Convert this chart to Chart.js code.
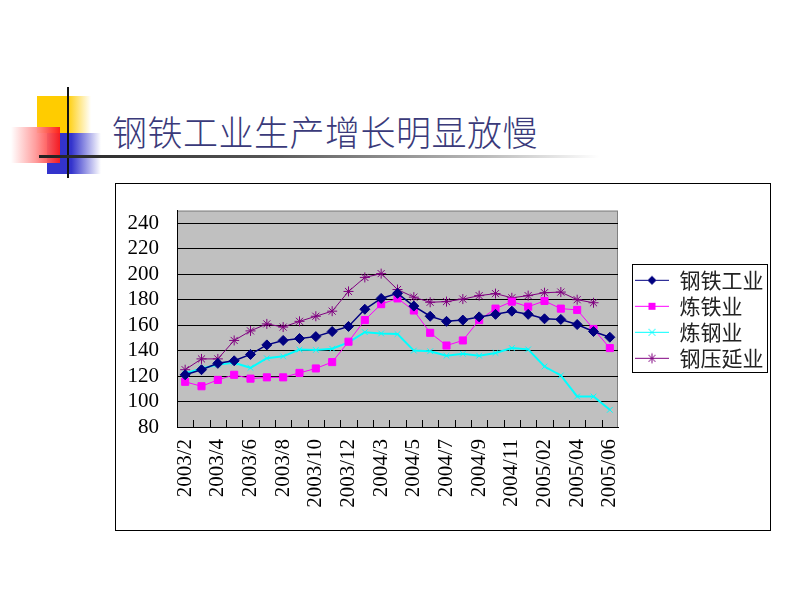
<!DOCTYPE html>
<html>
<head>
<meta charset="utf-8">
<script src="https://cdn.jsdelivr.net/npm/chart.js@4/dist/chart.umd.min.js"></script>
<style>
  body { margin: 0; width: 800px; height: 600px; background: #fff; position: relative; overflow: hidden; }
  .deco { position: absolute; }
  #yellow { left: 37px; top: 96px; width: 54px; height: 37px; background: linear-gradient(to right, #ffcc00 0%, #ffcc00 55%, #fff 100%); }
  #blue { left: 47px; top: 133px; width: 54px; height: 41px; background: linear-gradient(to right, #3333cc 0%, #3333cc 45%, #fff 100%); }
  #red { left: 11px; top: 127px; width: 49px; height: 36px; background: linear-gradient(to right, #fff 0%, #ff9999 50%, #ff1a1a 100%); opacity: 0.95; }
  #vline { left: 67px; top: 87px; width: 2px; height: 91px; background: #111; }
  #hline { left: 39px; top: 155px; width: 560px; height: 3px; background: linear-gradient(to right, #222 0%, #555 40%, #bbb 80%, #fff 100%); }
  #title { position: absolute; left: 112px; top: 113px; font-family: "Noto Sans CJK SC", sans-serif; font-weight: 300; font-size: 35px; line-height: 36px; color: #3a3a7a; letter-spacing: 0.5px; white-space: nowrap; }
  #box { position: absolute; left: 115px; top: 183px; width: 656px; height: 348px; border: 1px solid #000; box-sizing: border-box; }
  #lineChart { position: absolute; left: 0; top: -4px; }
</style>
</head>
<body>
<div class="deco" id="yellow"></div>
<div class="deco" id="blue"></div>
<div class="deco" id="red"></div>
<div class="deco" id="vline"></div>
<div class="deco" id="hline"></div>
<div id="title">钢铁工业生产增长明显放慢</div>
<div id="box"><canvas id="lineChart" width="654" height="350"></canvas></div>
<script>
// categories (month) and series
var months = ['2003/2', '2003/3', '2003/4', '2003/5', '2003/6', '2003/7', '2003/8', '2003/9', '2003/10', '2003/11', '2003/12',
              '2004/2', '2004/3', '2004/4', '2004/5', '2004/6', '2004/7', '2004/8', '2004/9', '2004/10', '2004/11', '2004/12',
              '2005/02', '2005/03', '2005/04', '2005/05', '2005/06'];
var gangtie = [121, 125, 130, 132, 137, 144.5, 148, 149.5, 151, 155, 159, 172.5, 181, 185, 175, 167, 163, 164, 166.5, 168.5, 171, 168.5, 165, 164.5, 160.5, 155, 150.5];
var liantie = [115.5, 112, 117, 121, 118, 119, 119, 122.5, 126, 131, 147, 164, 176.5, 181, 171.5, 154, 144, 148, 164, 173, 178.5, 174.5, 179, 173, 172, 157, 142];
var liangang = [122, 126, 129, 130.5, 126.5, 134, 135.5, 140.8, 140.5, 141.5, 146.5, 154.5, 153.5, 153, 140, 139.5, 136, 137.5, 136, 138.2, 142, 141, 127.5, 120.5, 104, 104, 93.5];
var gangyayan = [125, 133.5, 133.5, 148, 155.5, 161, 158.5, 163, 167, 171, 186.5, 197.5, 200.5, 188, 182, 178, 178.5, 180.5, 183.2, 184.8, 181.5, 183.2, 185.5, 186, 180, 177.6, null];
var yTicks = [80, 100, 120, 140, 160, 180, 200, 220, 240];

//  small legend icon: line with marker in the middle
function legendIcon(color, style) {
    var c = document.createElement('canvas');
    c.width = 46; c.height = 14;
    var ctx = c.getContext('2d');
    ctx.strokeStyle = color;
    ctx.fillStyle = color;
    ctx.lineWidth = 1;
    ctx.beginPath(); ctx.moveTo(12, 7.5); ctx.lineTo(46, 7.5); ctx.stroke();
    var x = 29, y = 7.5;
    ctx.beginPath();
    if (style === 'rectRot') {
        ctx.moveTo(x, y - 4.5); ctx.lineTo(x + 4.5, y); ctx.lineTo(x, y + 4.5); ctx.lineTo(x - 4.5, y); ctx.closePath(); ctx.fill();
    } else if (style === 'rect') {
        ctx.fillRect(x - 3.5, y - 3.5, 7, 7);
    } else if (style === 'crossRot') {
        ctx.moveTo(x - 3.5, y - 3.5); ctx.lineTo(x + 3.5, y + 3.5);
        ctx.moveTo(x + 3.5, y - 3.5); ctx.lineTo(x - 3.5, y + 3.5); ctx.stroke();
    } else {
        ctx.moveTo(x - 3.5, y - 3.5); ctx.lineTo(x + 3.5, y + 3.5);
        ctx.moveTo(x + 3.5, y - 3.5); ctx.lineTo(x - 3.5, y + 3.5);
        ctx.moveTo(x, y - 5); ctx.lineTo(x, y + 5); ctx.stroke();
    }
    return c;
}

var styles = [
    {color: '#000080', marker: 'rectRot', radius: 5, width: 1.5},
    {color: '#ff00ff', marker: 'rect', radius: 5, width: 1},
    {color: '#00ffff', marker: 'crossRot', radius: 4, width: 2},
    {color: '#800080', marker: 'star', radius: 5, width: 1}
];
var icons = styles.map(function (s) { return legendIcon(s.color, s.marker); });

//  gray plot area, border and inside tick marks
var plotArea = {
    id: 'plotArea',
    beforeDraw: function (chart) {
        var a = chart.chartArea, ctx = chart.ctx;
        ctx.save();
        ctx.fillStyle = '#c0c0c0';
        ctx.fillRect(a.left, a.top, a.right - a.left, a.bottom - a.top);
        ctx.strokeStyle = '#808080';
        ctx.lineWidth = 1;
        ctx.strokeRect(a.left + 0.5, a.top + 0.5, a.right - a.left - 1, a.bottom - a.top);
        ctx.restore();
    },
    afterDraw: function (chart) {
        var ctx = chart.ctx, xs = chart.scales.x, a = chart.chartArea;
        ctx.save();
        ctx.strokeStyle = '#000';
        ctx.lineWidth = 1;
        ctx.beginPath();
        for (var i = 0; i < months.length - 1; i++) {
            var x = Math.round((xs.getPixelForValue(i) + xs.getPixelForValue(i + 1)) / 2) + 0.5;
            ctx.moveTo(x, a.bottom);
            ctx.lineTo(x, a.bottom - 7);
        }
        ctx.stroke();
        // legend frame
        var boxes = chart.legend.legendHitBoxes;
        if (boxes && boxes.length) {
            var first = boxes[0], last = boxes[boxes.length - 1];
            var left = first.left + 9, right = first.left + 144;
            var top = first.top - 5, bottom = last.top + last.height + 4;
            ctx.strokeRect(Math.round(left) + 0.5, Math.round(top) + 0.5, Math.round(right - left), Math.round(bottom - top));
        }
        ctx.restore();
    }
};

Chart.defaults.font.family = '"Liberation Serif", serif';
Chart.defaults.color = '#000';

new Chart(document.getElementById('lineChart'), {
    type: 'line',
    data: {
        labels: months,
        datasets: [
            {label: '钢铁工业', data: gangtie},
            {label: '炼铁业', data: liantie},
            {label: '炼钢业', data: liangang},
            {label: '钢压延业', data: gangyayan}
        ].map(function (d, i) {
            var s = styles[i];
            d.borderColor = s.color;
            d.backgroundColor = s.color;
            d.borderWidth = s.width;
            d.pointStyle = s.marker;
            d.pointRadius = s.radius;
            d.pointBorderWidth = 1;
            d.pointBorderColor = s.color;
            d.pointBackgroundColor = s.color;
            d.tension = 0;
            d.fill = false;
            return d;
        })
    },
    options: {
        responsive: false,
        animation: false,
        layout: {padding: {top: 22, left: 0, bottom: 0, right: 0}},
        plugins: {
            title: {display: false},
            tooltip: {enabled: false},
            legend: {
                display: true,
                position: 'right',
                fullSize: false,
                maxWidth: 152,
                labels: {
                    usePointStyle: true,
                    pointStyleWidth: 46,
                    padding: 5,
                    color: '#222',
                    font: {family: '"Noto Sans CJK SC", sans-serif', size: 21},
                    generateLabels: function (chart) {
                        var items = Chart.defaults.plugins.legend.labels.generateLabels(chart);
                        items.forEach(function (it, i) { it.pointStyle = icons[i]; });
                        return items;
                    }
                }
            }
        },
        scales: {
            x: {
                offset: true,
                grid: {display: false, drawTicks: false},
                border: {color: '#000', width: 1},
                afterFit: function (scale) { scale.height = 103; },
                ticks: {
                    autoSkip: false,
                    maxRotation: 90,
                    minRotation: 90,
                    padding: 12,
                    font: {size: 21},
                    callback: function (v, i) { return i % 2 === 0 ? months[i] : ''; }
                }
            },
            y: {
                min: 80,
                max: 250,
                afterBuildTicks: function (scale) {
                    scale.ticks = yTicks.map(function (v) { return {value: v}; });
                },
                afterFit: function (scale) { scale.width = 61; },
                grid: {color: '#000', lineWidth: 1, drawTicks: false},
                border: {color: '#000', width: 1},
                ticks: {autoSkip: false, padding: 18, font: {size: 21}}
            }
        }
    },
    plugins: [plotArea]
});
</script>
</body>
</html>
